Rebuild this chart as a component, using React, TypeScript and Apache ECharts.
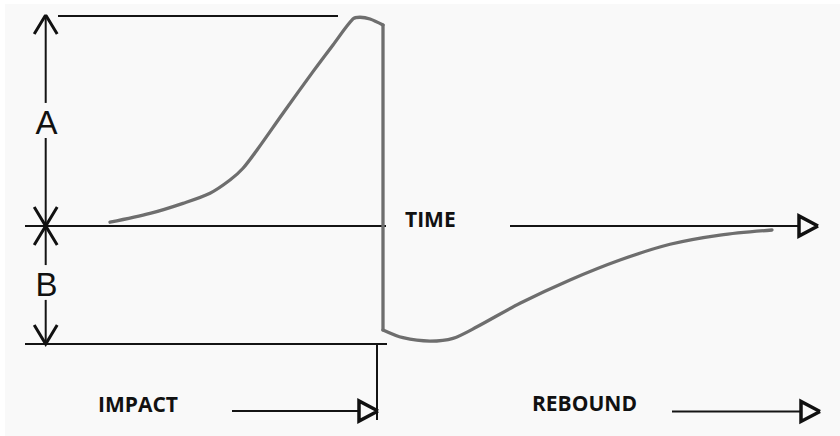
import React, { useEffect, useRef } from "react";
import * as echarts from "echarts";

// ---- data (time in arbitrary units along x, force normalised: peak ≈ 1) ----
const impactTime = [110, 150, 183, 210, 230, 243, 257, 283, 313, 333, 353, 360, 370, 383];
const impactForce = [0.018, 0.06, 0.108, 0.156, 0.219, 0.275, 0.362, 0.537, 0.735, 0.862, 0.986, 0.994, 0.986, 0.957];
const dropTime = [383, 383];
const dropForce = [0.957, -0.495];
const reboundTime = [383, 403, 430, 453, 477, 520, 570, 620, 670, 720, 772];
const reboundForce = [-0.495, -0.532, -0.548, -0.535, -0.48, -0.368, -0.257, -0.162, -0.087, -0.043, -0.019];

// reference levels / times of the annotation
const levelA = 1.0;
const levelZero = 0;
const levelB = -0.562;
const dimensionTime = 45.7;
const aLetterGap = [0.586, 0.419];
const bLetterGap = [-0.186, -0.352];
const aLineSpan = [58, 338];
const baseLineSpan = [25, 386];
const timeArrowSpan = [510, 818];
const bLineSpan = [25, 387];
const impactMarkTime = 377;
const impactMarkEnd = -0.924;
const impactArrowLevel = -0.881;
const impactArrowSpan = [232, 378];
const reboundArrowLevel = -0.883;
const reboundArrowSpan = [672, 820];

const labels = ["A", "B", "TIME", "IMPACT", "REBOUND"];

const X_MIN = 0, X_MAX = 840, Y_MIN = -1, Y_MAX = 1;
const GRID_TOP = 16, GRID_H = 420;

export default function App() {
  const ref = useRef<HTMLDivElement>(null);
  useEffect(() => {
    document.body.style.margin = "0";
    if (!ref.current) return;
    const chart = echarts.init(ref.current, null, { renderer: "svg" });

    const pyToV = (px: number) => (px * (Y_MAX - Y_MIN)) / GRID_H; // pixel length -> y units
    const pxToX = (px: number) => px; // 1 unit per pixel horizontally

    const chevron = (x: number, y: number, up: boolean) => {
      const dy = pyToV(19) * (up ? -1 : 1);
      return [[x - pxToX(11.5), y + dy], [x, y], [x + pxToX(11.5), y + dy]];
    };
    const triangle = (x: number, y: number) => {
      const h = pyToV(10);
      const w = pxToX(19);
      return [[x, y], [x - w, y + h], [x - w, y - h], [x, y]];
    };

    const thin = [
      [[aLineSpan[0], levelA], [aLineSpan[1], levelA]],
      [[baseLineSpan[0], levelZero], [baseLineSpan[1], levelZero]],
      [[timeArrowSpan[0], levelZero], [timeArrowSpan[1] - 19, levelZero]],
      [[bLineSpan[0], levelB], [bLineSpan[1], levelB]],
      [[impactMarkTime, levelB], [impactMarkTime, impactMarkEnd]],
      [[dimensionTime, levelA], [dimensionTime, aLetterGap[0]]],
      [[dimensionTime, aLetterGap[1]], [dimensionTime, levelZero]],
      [[dimensionTime, levelZero], [dimensionTime, bLetterGap[0]]],
      [[dimensionTime, bLetterGap[1]], [dimensionTime, levelB]],
      [[impactArrowSpan[0], impactArrowLevel], [impactArrowSpan[1] - 19, impactArrowLevel]],
      [[reboundArrowSpan[0], reboundArrowLevel], [reboundArrowSpan[1] - 19, reboundArrowLevel]],
    ];
    const chevrons = [
      chevron(dimensionTime, levelA + pyToV(1), true),
      chevron(dimensionTime, levelZero, false),
      chevron(dimensionTime, levelZero, true),
      chevron(dimensionTime, levelB, false),
    ];
    const triangles = [
      triangle(timeArrowSpan[1], levelZero),
      triangle(impactArrowSpan[1], impactArrowLevel),
      triangle(reboundArrowSpan[1], reboundArrowLevel),
    ];

    const curveStyle = { color: "#6e6e6e", width: 3.3, cap: "round" as const, join: "round" as const };
    const pair = (xs: number[], ys: number[]) => xs.map((x, i) => [x, ys[i]]);
    const boldFont = "bold 21px 'Open Sans', sans-serif";
    const letterFont = "normal 33px 'Liberation Sans', Arial, sans-serif";

    chart.setOption({
      animation: false,
      backgroundColor: "#f9f9f9",
      grid: { left: 0, right: 0, top: GRID_TOP, bottom: 436 - GRID_TOP - GRID_H },
      xAxis: { type: "value", min: X_MIN, max: X_MAX, show: false },
      yAxis: { type: "value", min: Y_MIN, max: Y_MAX, show: false },
      series: [
        { type: "line", data: pair(impactTime, impactForce), smooth: 0.3, showSymbol: false, lineStyle: curveStyle, z: 3 },
        { type: "line", data: pair(dropTime, dropForce), showSymbol: false, lineStyle: curveStyle, z: 3 },
        { type: "line", data: pair(reboundTime, reboundForce), smooth: 0.3, showSymbol: false, lineStyle: curveStyle, z: 3 },
        {
          type: "lines", coordinateSystem: "cartesian2d", polyline: true, silent: true, z: 2,
          lineStyle: { color: "#141414", width: 2, opacity: 1, curveness: 0 },
          data: thin.map((c) => ({ coords: c })),
        },
        {
          type: "lines", coordinateSystem: "cartesian2d", polyline: true, silent: true, z: 4,
          lineStyle: { color: "#111", width: 3, opacity: 1, curveness: 0, join: "miter" },
          data: chevrons.map((c) => ({ coords: c })),
        },
        {
          type: "lines", coordinateSystem: "cartesian2d", polyline: true, silent: true, z: 4,
          lineStyle: { color: "#111", width: 3.5, opacity: 1, curveness: 0, join: "miter" },
          data: triangles.map((c) => ({ coords: c })),
        },
      ],
      graphic: [
        { type: "rect", left: 0, top: 0, shape: { width: 840, height: 4 }, style: { fill: "#ffffff" }, z: 0 },
        { type: "rect", left: 0, top: 0, shape: { width: 5, height: 436 }, style: { fill: "#ffffff" }, z: 0 },
        { type: "text", x: 46.5, y: 122, style: { text: labels[0], font: letterFont, fill: "#111", align: "center", verticalAlign: "middle" }, z: 5 },
        { type: "text", x: 46.5, y: 284.5, style: { text: labels[1], font: letterFont, fill: "#111", align: "center", verticalAlign: "middle" }, z: 5 },
        { type: "text", x: 405, y: 219, style: { text: labels[2], font: boldFont, fill: "#111", align: "left", verticalAlign: "middle" }, z: 5 },
        { type: "text", x: 98, y: 404, style: { text: labels[3], font: boldFont, fill: "#111", align: "left", verticalAlign: "middle" }, z: 5 },
        { type: "text", x: 532, y: 403, style: { text: labels[4], font: boldFont, fill: "#111", align: "left", verticalAlign: "middle" }, z: 5 },
      ],
    });
    return () => chart.dispose();
  }, []);
  return <div ref={ref} style={{ width: 840, height: 436 }} />;
}
